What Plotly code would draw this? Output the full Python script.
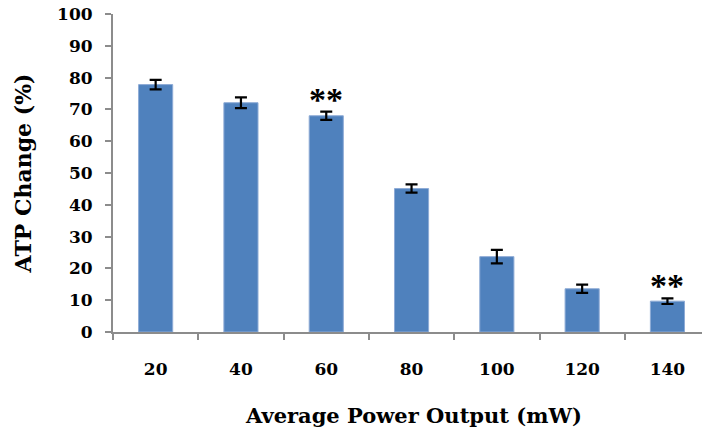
import plotly.graph_objects as go

# Average power output (mW) and ATP change (%) with standard error
power_labels = ["20", "40", "60", "80", "100", "120", "140"]
atp_change = [77.8, 72.1, 68.0, 45.1, 23.7, 13.6, 9.7]
atp_error = [1.5, 1.7, 1.3, 1.3, 2.1, 1.3, 0.9]
significance = ["", "", "**", "", "", "", "**"]
y_ticks = [0, 10, 20, 30, 40, 50, 60, 70, 80, 90, 100]

serif = "DejaVu Serif, Liberation Serif, serif"
axis_grey = "#8c8c8c"

fig = go.Figure()
fig.add_trace(go.Bar(
    x=power_labels,
    y=atp_change,
    marker=dict(color="#4F81BD", line=dict(color="#8EABD6", width=1)),
    error_y=dict(type="data", array=atp_error, visible=True,
                 color="black", thickness=2.2, width=6),
    width=0.4,
))

# significance marks above the error bars (category index as x position)
for i, (val, err, mark) in enumerate(zip(atp_change, atp_error, significance)):
    if mark:
        fig.add_annotation(
            x=i, y=val + err, text="<b>" + mark + "</b>",
            showarrow=False, yanchor="bottom", yshift=-8,
            font=dict(family="Liberation Serif, serif", size=34, color="black"),
        )

# x-axis title, centred under the full category band (pixel centre -> paper units)
plot_left, plot_right, plot_top, plot_bottom = 113, 702, 14, 332
fig.add_annotation(
    x=(413 - plot_left) / (plot_right - plot_left), xref="paper",
    y=-(415 - plot_bottom) / (plot_bottom - plot_top), yref="paper",
    xanchor="center", yanchor="middle",
    text="<b>Average Power Output (mW)</b>", showarrow=False,
    font=dict(family=serif, size=21, color="black"),
)

n_visible = (plot_right - plot_left) / 85.3
fig.update_layout(
    width=702, height=432,
    margin=dict(l=plot_left, r=0, t=plot_top, b=432 - plot_bottom),
    paper_bgcolor="white", plot_bgcolor="white",
    showlegend=False,
    font=dict(family=serif, color="black"),
    xaxis=dict(
        type="category",
        range=[-0.5, -0.5 + n_visible],
        tickvals=power_labels,
        ticktext=["<b>%s</b>" % s for s in power_labels],
        showline=True, linecolor=axis_grey, linewidth=2,
        ticks="outside", tickson="boundaries", ticklen=6, tickwidth=2,
        tickcolor=axis_grey, showgrid=False,
        tickfont=dict(family=serif, size=17, color="black"),
        ticklabelstandoff=21,
    ),
    yaxis=dict(
        range=[0, 100], tickvals=y_ticks,
        ticktext=["<b>%d</b>" % v for v in y_ticks],
        showline=True, linecolor=axis_grey, linewidth=2,
        ticks="outside", ticklen=6, tickwidth=2, tickcolor=axis_grey,
        showgrid=False, zeroline=False,
        tickfont=dict(family=serif, size=17, color="black"),
        ticklabelstandoff=9,
        title=dict(text="<b>ATP Change (%)</b>",
                   font=dict(family=serif, size=22, color="black"), standoff=19),
    ),
)

fig.write_html("out.html")
